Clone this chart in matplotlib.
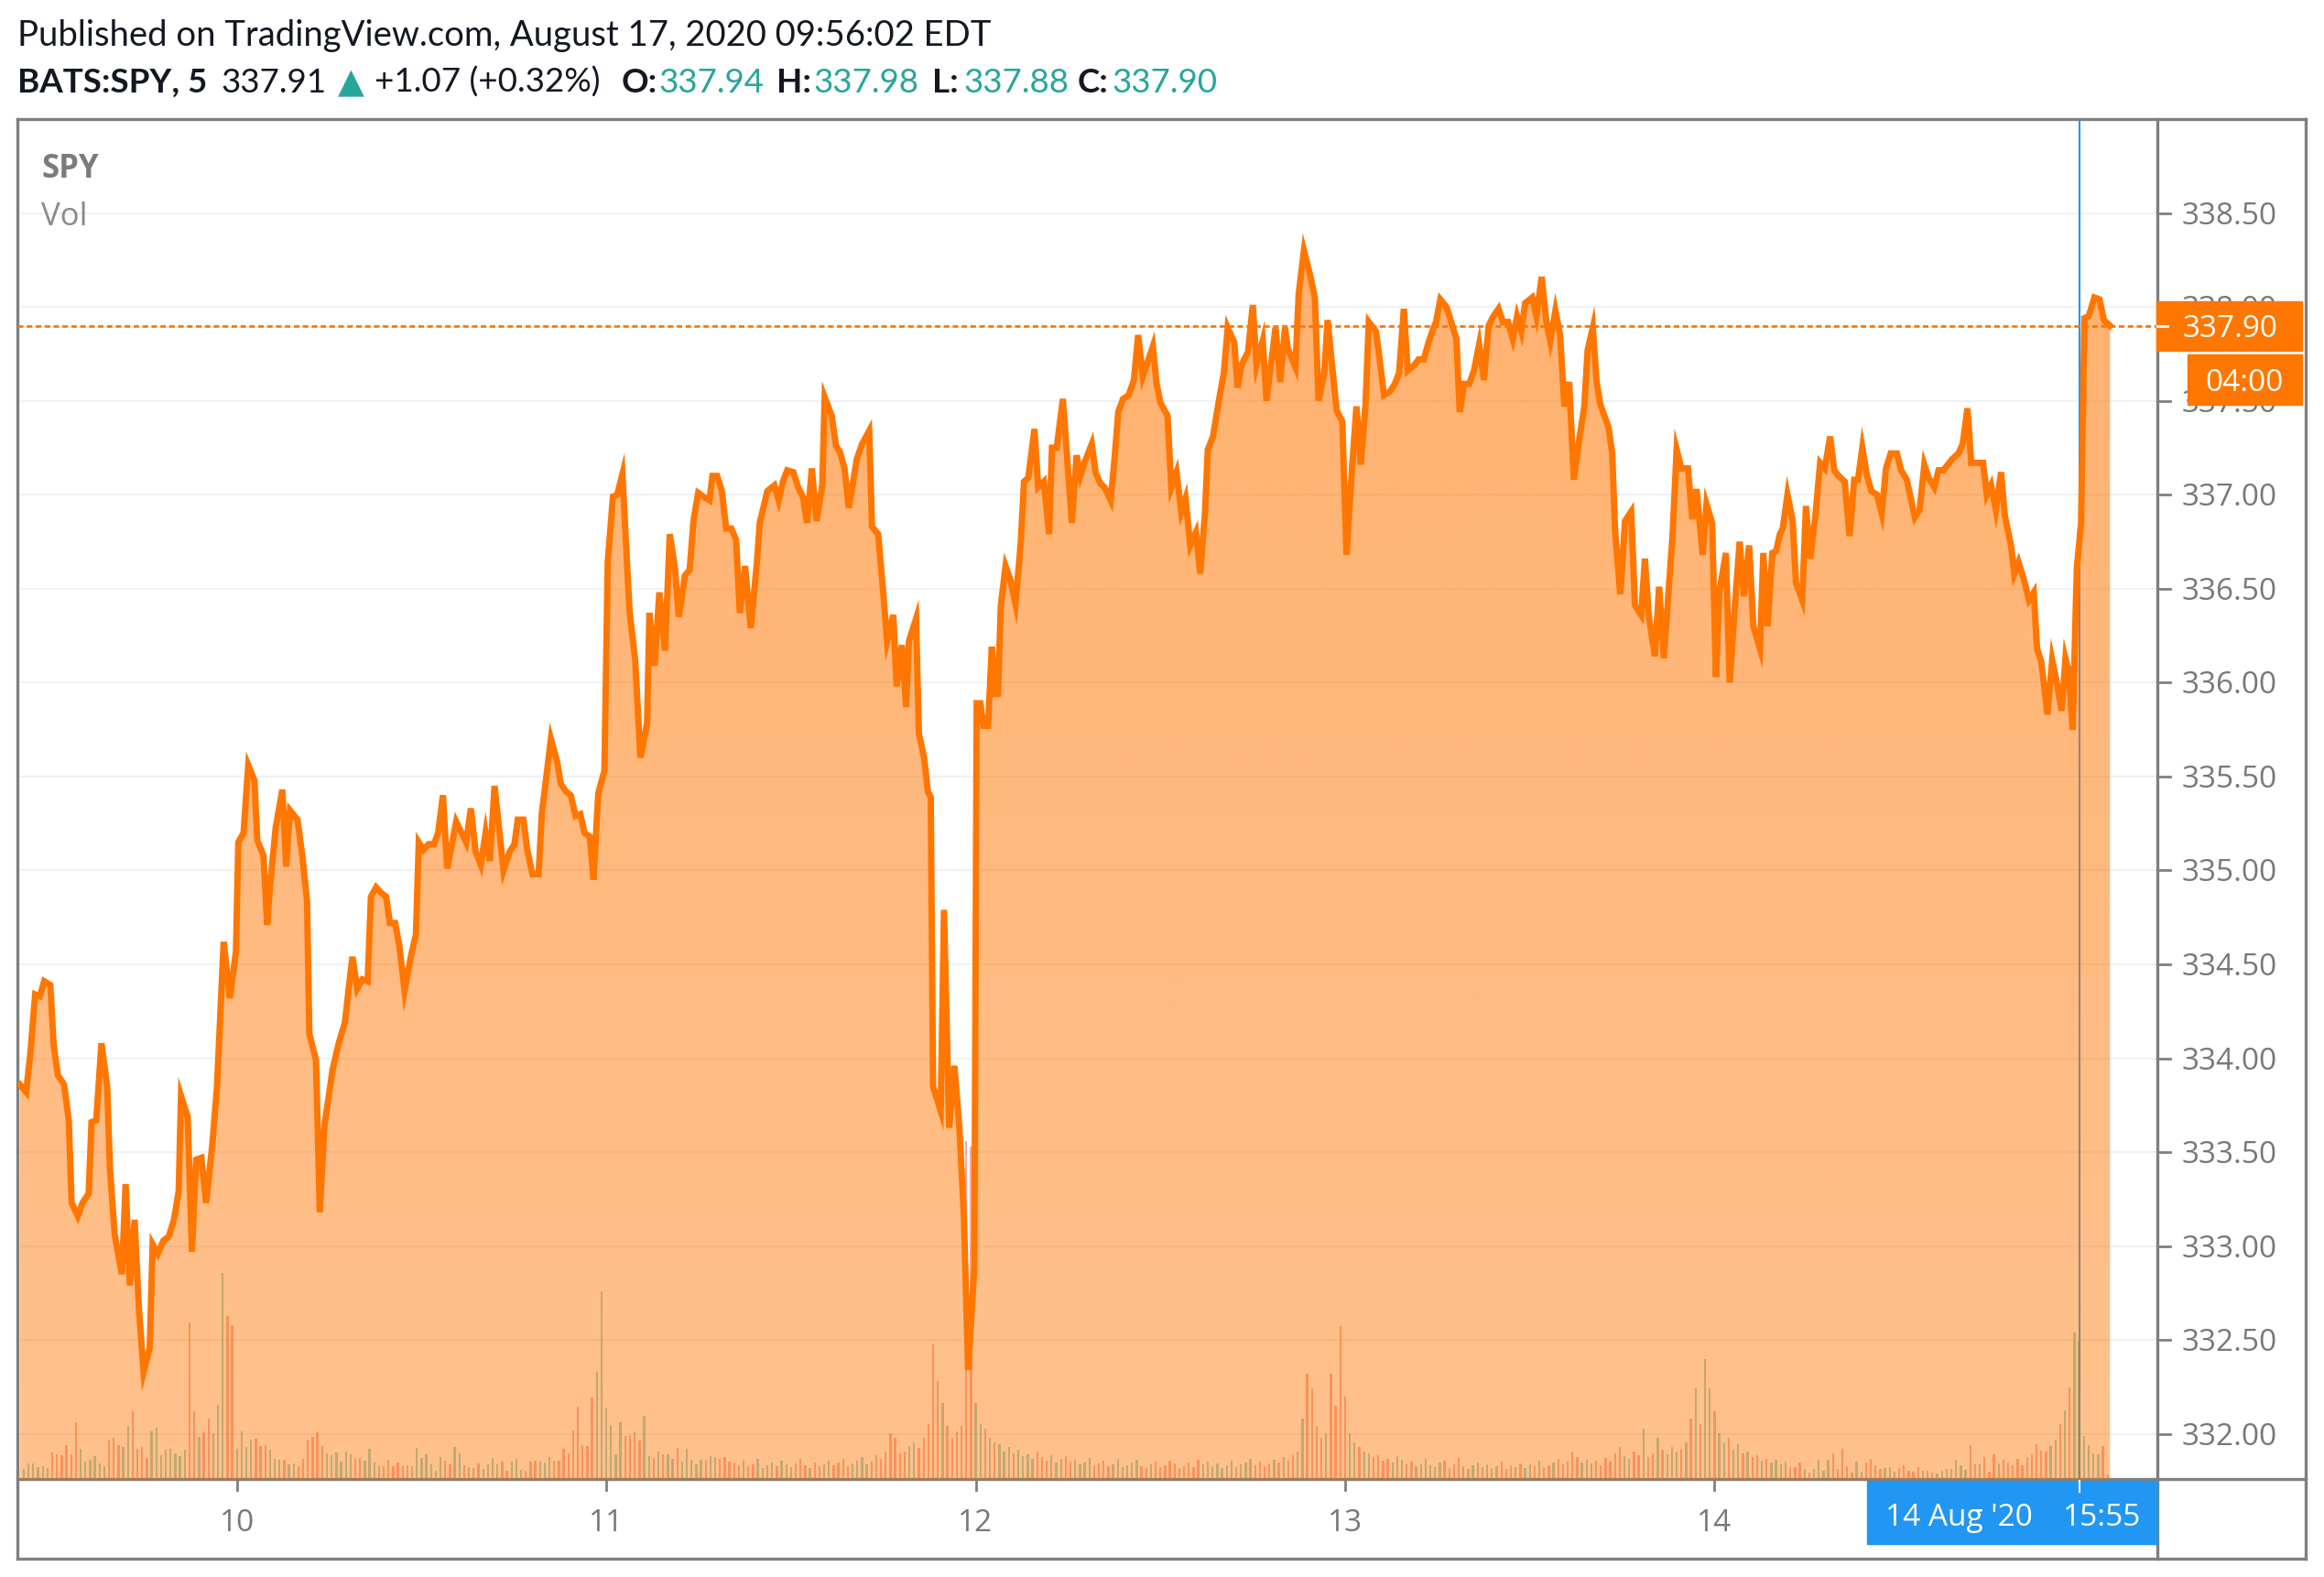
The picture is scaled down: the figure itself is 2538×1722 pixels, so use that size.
import numpy as np
import matplotlib.pyplot as plt
from matplotlib.patches import Rectangle
from matplotlib.lines import Line2D

W, H = 2538, 1722

# ---- data (x = 5-min bar index, 0 = Aug 10 09:30) ----
bar_x = [-45.8, -44.5, -43.6, -42.6, -41.6, -40.7, -39.4, -38.7, -37.8, -36.5,
         -35.5, -34.9, -33.6, -32.6, -31.3, -30.7, -29.7, -28.6, -27.4, -26.8,
         -25.8, -24.3, -23.5, -22.6, -21.6, -20.7, -19.7, -18.4, -17.8, -16.7,
         -15.5, -14.4, -13.3, -12.3, -11.8, -10.4, -9.5, -8.6, -7.5, -6.5,
         -5.2, -4.2, -2.8, -1.5, -0.2, 0.3, 1.4, 2.4, 3.7, 4.3,
         5.6, 6.4, 7.0, 8.2, 9.6, 10.4, 11.2, 12.8, 13.8, 14.8,
         15.3, 16.7, 17.5, 18.5, 19.3, 20.2, 21.5, 22.8, 23.6, 24.4,
         25.4, 26.5, 27.6, 28.3, 29.4, 30.5, 31.5, 32.3, 33.4, 34.3,
         35.4, 36.8, 37.8, 38.4, 39.4, 40.5, 41.6, 42.5, 43.5, 44.4,
         46.3, 48.4, 49.4, 50.4, 51.5, 52.5, 53.4, 54.4, 56.3, 57.6,
         58.6, 59.3, 60.5, 61.3, 62.4, 63.7, 64.4, 65.3, 66.3, 67.6,
         68.4, 69.5, 70.5, 71.5, 72.5, 73.4, 74.5, 75.3, 76.3, 77.6,
         78.3, 79.4, 80.3, 81.4, 82.9, 84.1, 85.2, 86.6, 87.1, 88.2,
         89.2, 90.4, 91.4, 92.5, 93.3, 94.6, 95.6, 96.4, 97.4, 98.5,
         99.8, 100.4, 101.4, 102.4, 103.3, 104.4, 105.4, 106.2, 107.3, 108.5,
         109.8, 110.4, 112.0, 113.5, 114.4, 115.3, 116.2, 117.5, 118.5, 119.5,
         120.4, 121.4, 122.4, 123.6, 124.1, 125.6, 126.5, 127.3, 128.3, 129.2,
         130.9, 132.0, 133.5, 134.1, 135.4, 136.3, 137.3, 138.6, 139.3, 140.4,
         141.3, 141.9, 143.4, 144.0, 145.1, 145.9, 146.5, 147.0, 148.6, 149.3,
         150.4, 151.5, 152.6, 153.5, 154.4, 155.7, 156.2, 157.0, 157.6, 158.6,
         159.4, 160.1, 160.7, 161.3, 162.3, 163.3, 164.4, 165.5, 166.2, 167.1,
         168.4, 169.2, 170.4, 171.5, 172.1, 173.1, 174.4, 176.3, 177.3, 178.1,
         179.1, 180.5, 181.3, 182.3, 183.2, 184.5, 185.2, 186.1, 187.1, 188.3,
         189.4, 190.3, 191.3, 193.4, 194.2, 195.0, 196.5, 197.3, 198.4, 199.4,
         200.3, 201.3, 202.5, 203.4, 204.4, 205.0, 206.1, 207.4, 208.4, 209.2,
         210.6, 211.3, 212.1, 213.5, 214.5, 215.3, 216.6, 217.4, 219.3, 220.3,
         221.3, 221.9, 223.5, 224.2, 225.3, 226.6, 227.6, 228.4, 229.6, 230.3,
         231.3, 232.2, 233.4, 234.3, 235.5, 236.4, 237.3, 238.3, 239.0, 240.5,
         241.2, 242.2, 243.5, 244.5, 245.4, 246.4, 247.2, 248.6, 249.5, 250.6,
         251.6, 252.7, 253.2, 254.1, 255.4, 256.4, 257.5, 258.2, 259.1, 260.2,
         261.2, 262.3, 263.3, 264.3, 265.3, 266.4, 267.3, 268.4, 269.4, 270.3,
         271.2, 272.0, 273.5, 274.4, 275.5, 276.5, 277.3, 278.4, 279.4, 280.3,
         281.3, 282.3, 283.4, 284.5, 285.2, 286.3, 287.1, 287.9, 289.6, 290.4,
         291.0, 292.1, 293.1, 294.4, 295.2, 296.5, 297.3, 298.1, 299.4, 300.3,
         301.3, 303.1, 304.0, 305.0, 306.4, 307.3, 308.2, 309.5, 310.3, 311.5,
         312.3, 313.0, 314.4, 315.2, 316.3, 317.3, 318.2, 319.3, 320.2, 321.6,
         322.3, 323.2, 324.2, 325.0, 325.8, 326.4, 327.4, 328.5, 329.2, 330.5,
         331.3, 332.2, 333.3, 334.3, 335.3, 336.4, 337.3, 338.2, 339.5, 340.5,
         341.5, 342.3, 343.2, 344.2, 345.1, 346.3, 347.3, 348.2, 349.2, 350.5,
         351.4, 352.6, 354.3, 355.3, 356.3, 357.2, 358.4, 359.3, 360.3, 362.2,
         363.5, 364.4, 365.4, 366.2, 367.5, 368.7, 369.5, 370.4, 371.4, 372.5,
         373.3, 374.6, 375.3, 376.2, 377.3, 378.4, 379.4, 380.1, 381.0, 382.3,
         383.3, 384.2, 385.3, 386.1, 386.8, 387.6, 388.5, 389.4, 390.1, 391.0,
         392.2, 393.3, 394.2, 395.5]
price = [333.86, 333.82, 334.03, 334.34, 334.33, 334.41, 334.39, 334.07, 333.91, 333.86,
         333.67, 333.23, 333.16, 333.23, 333.28, 333.66, 333.67, 334.08, 333.85, 333.41,
         333.06, 332.85, 333.33, 332.79, 333.14, 332.67, 332.33, 332.46, 333.01, 332.96,
         333.03, 333.05, 333.14, 333.29, 333.80, 333.69, 332.97, 333.46, 333.47, 333.23,
         333.54, 333.85, 334.62, 334.32, 334.57, 335.15, 335.20, 335.56, 335.48, 335.16,
         335.08, 334.71, 334.92, 335.23, 335.43, 335.02, 335.32, 335.27, 335.08, 334.84,
         334.13, 333.99, 333.18, 333.65, 333.78, 333.94, 334.08, 334.19, 334.37, 334.54,
         334.37, 334.42, 334.41, 334.86, 334.91, 334.88, 334.86, 334.72, 334.72, 334.60,
         334.36, 334.55, 334.66, 335.15, 335.11, 335.14, 335.14, 335.20, 335.40, 335.01,
         335.26, 335.15, 335.33, 335.10, 335.03, 335.20, 335.05, 335.45, 335.00, 335.10,
         335.14, 335.27, 335.27, 335.11, 334.98, 334.98, 335.31, 335.49, 335.70, 335.58,
         335.46, 335.42, 335.40, 335.29, 335.30, 335.20, 335.18, 334.95, 335.41, 335.53,
         336.64, 336.99, 337.00, 337.11, 336.38, 336.12, 335.60, 335.78, 336.37, 336.09,
         336.48, 336.17, 336.79, 336.61, 336.35, 336.57, 336.60, 336.86, 337.01, 336.99,
         336.97, 337.10, 337.10, 337.02, 336.82, 336.82, 336.76, 336.37, 336.62, 336.29,
         336.64, 336.85, 337.02, 337.05, 336.97, 337.07, 337.13, 337.12, 337.04, 336.99,
         336.85, 337.14, 336.86, 337.05, 337.52, 337.42, 337.26, 337.23, 337.14, 336.93,
         337.19, 337.27, 337.34, 336.83, 336.79, 336.53, 336.22, 336.36, 335.98, 336.20,
         335.87, 336.22, 336.34, 335.73, 335.60, 335.42, 335.39, 333.85, 333.72, 334.79,
         333.63, 333.96, 333.61, 333.16, 332.34, 332.88, 335.89, 335.89, 335.77, 335.77,
         336.19, 335.94, 335.94, 336.41, 336.62, 336.55, 336.42, 336.74, 337.07, 337.09,
         337.35, 337.04, 337.07, 336.79, 337.25, 337.25, 337.51, 336.85, 337.21, 337.10,
         337.18, 337.27, 337.12, 337.06, 337.04, 336.97, 337.16, 337.44, 337.51, 337.53,
         337.61, 337.85, 337.63, 337.79, 337.59, 337.49, 337.42, 337.04, 337.12, 336.91,
         336.98, 336.73, 336.80, 336.58, 336.90, 337.24, 337.31, 337.51, 337.65, 337.89,
         337.81, 337.57, 337.69, 337.76, 338.01, 337.69, 337.82, 337.50, 337.89, 337.60,
         337.89, 337.78, 337.68, 338.07, 338.30, 338.17, 338.05, 337.50, 337.65, 337.93,
         337.68, 337.45, 337.39, 336.68, 337.16, 337.47, 337.16, 337.48, 337.92, 337.87,
         337.74, 337.53, 337.55, 337.59, 337.65, 337.99, 337.66, 337.69, 337.72, 337.72,
         337.81, 337.89, 337.92, 338.04, 338.00, 337.92, 337.83, 337.44, 337.59, 337.59,
         337.66, 337.80, 337.61, 337.90, 337.95, 337.99, 337.92, 337.92, 337.83, 337.95,
         337.87, 338.02, 338.05, 337.95, 338.16, 337.92, 337.82, 337.98, 337.85, 337.47,
         337.60, 337.08, 337.29, 337.47, 337.77, 337.89, 337.60, 337.48, 337.36, 337.22,
         336.81, 336.47, 336.86, 336.91, 336.41, 336.36, 336.66, 336.36, 336.14, 336.51,
         336.13, 336.77, 337.24, 337.14, 337.14, 336.87, 337.03, 336.68, 336.95, 336.85,
         336.03, 336.48, 336.69, 336.00, 336.41, 336.75, 336.46, 336.73, 336.30, 336.18,
         336.69, 336.30, 336.69, 336.70, 336.79, 336.82, 337.00, 336.86, 336.53, 336.44,
         336.94, 336.66, 336.89, 337.17, 337.14, 337.31, 337.13, 337.10, 337.07, 336.78,
         337.08, 337.08, 337.25, 337.10, 337.02, 337.00, 336.90, 337.14, 337.22, 337.22,
         337.13, 337.08, 336.88, 336.92, 337.16, 337.09, 337.04, 337.13, 337.13, 337.19,
         337.22, 337.27, 337.46, 337.17, 337.17, 337.17, 337.00, 337.05, 336.92, 337.12,
         336.89, 336.73, 336.58, 336.64, 336.55, 336.44, 336.48, 336.18, 336.11, 335.83,
         336.12, 336.01, 335.85, 336.13, 336.06, 335.75, 336.61, 336.85, 337.94, 337.95,
         338.05, 338.04, 337.93, 337.90]

# volume per bar, starting at bar -45 (thousand shares, rough reading)
vol = [11, 17, 17, 13, 14, 12, 29, 27, 26, 37, 27, 62, 33, 19, 21, 25, 17, 14, 43, 45,
       37, 35, 58, 74, 33, 35, 23, 52, 56, 26, 32, 33, 28, 25, 32, 171, 74, 46, 51, 66,
       50, 81, 225, 178, 168, 33, 52, 35, 43, 44, 36, 37, 32, 22, 21, 21, 16, 17, 14, 22,
       43, 46, 51, 36, 28, 26, 29, 19, 30, 27, 22, 23, 20, 33, 18, 14, 14, 21, 14, 18,
       14, 15, 14, 34, 23, 27, 16, 9, 24, 20, 16, 35, 28, 15, 13, 12, 17, 11, 16, 23,
       16, 19, 9, 19, 22, 10, 9, 19, 20, 19, 18, 24, 20, 20, 33, 28, 53, 79, 37, 36,
       89, 117, 205, 78, 59, 27, 62, 47, 48, 52, 42, 69, 25, 23, 30, 27, 27, 22, 34, 19,
       33, 21, 16, 21, 21, 25, 24, 22, 24, 19,
       # Aug 11, bar 105 on
       18, 15, 20, 14, 16, 22, 12, 15, 18, 14, 20, 16, 13, 17, 22, 15, 12, 18, 14, 16, 20,
       15, 18, 22, 14, 17, 20, 24, 16, 19, 26, 22, 30, 50, 45, 28,
       30, 36, 40, 34, 45, 60, 147, 107, 83, 58, 45, 52, 58, 369, 363,
       # Aug 12
       83, 60, 55, 45, 40, 38, 30, 35, 28, 32, 25, 27, 22, 30, 24, 20, 26, 18, 22, 25,
       19, 21, 16, 18, 23, 15, 17, 20, 14, 16, 22, 13, 15, 18, 21, 14, 12, 16, 19, 13,
       15, 20, 17, 12, 14, 18, 13, 21, 16, 19, 14, 17, 12, 15, 20, 13, 16, 18, 22, 15,
       19, 14, 17, 21, 18, 24, 20, 26, 30, 66, 115, 99, 58, 45, 50, 115, 80, 167,
       # Aug 13
       90, 50, 40, 35, 30, 28, 24, 26, 20, 22, 18, 25, 21, 16, 19, 14, 17, 22, 15, 13,
       18, 20, 12, 16, 23, 14, 11, 15, 18, 13, 16, 12, 14, 19, 11, 15, 13, 17, 12, 16,
       14, 20, 13, 15, 18, 22, 16, 19, 30, 24, 18, 21, 17, 20, 15, 23, 19, 28, 35, 25,
       22, 30, 26, 55, 24, 28, 45, 32, 27, 35, 30, 33, 40, 66, 99, 60, 131, 99,
       # Aug 14
       74, 50, 40, 45, 32, 38, 28, 30, 24, 26, 20, 22, 18, 21, 16, 19,
       13, 13, 18, 11, 7, 11, 21, 9, 21, 28, 11, 33, 14, 7, 19, 8, 18, 22, 15, 11,
       12, 13, 8, 12, 15, 9, 8, 13, 9, 9, 7, 6, 9, 11, 11, 21, 15, 10, 37, 16,
       16, 24, 8, 27, 17, 21, 18, 15, 22, 15, 24, 27, 38, 31, 30, 36, 43, 60, 75, 100,
       160, 150,
       # Aug 17
       47, 37, 28, 27, 36, 5]
vol_first_bar = -45

day_labels = ['10', '11', '12', '13', '14']
day_bars = [0, 78, 156, 234, 312]
price_ticks = np.arange(332.0, 338.51, 0.5)
last_price = 337.90
last_bar_time = '04:00'
cursor_bar = 389.1
cursor_date, cursor_time = "14 Aug '20", '15:55'

ORANGE = '#FF7600'
GRAY = '#7f7f7f'
TEXT_GRAY = '#787878'
TEAL = '#26a69a'
BLUE = '#2196F3'

fig = plt.figure(figsize=(W / 100, H / 100), dpi=100)
fig.patch.set_facecolor('white')


def fx(x):
    return x / W


def fy(y):
    return 1 - y / H


L, R, T, B = 19, 2356, 130, 1615
rect = [fx(L), fy(B), fx(R) - fx(L), fy(T) - fy(B)]
xlim = (-46.35, 405.5)
ylim = (331.76, 339.0)

# volume + grid underneath
ax_v = fig.add_axes(rect, zorder=1)
ax_v.set_xlim(*xlim)
ax_v.set_ylim(0, 1485)
ax_v.axis('off')

ax = fig.add_axes(rect, zorder=2)
ax.patch.set_alpha(0)
ax.set_xlim(*xlim)
ax.set_ylim(*ylim)
ax.axis('off')

for p in price_ticks:
    ax_v.axhline((p - ylim[0]) / (ylim[1] - ylim[0]) * 1485, color='#eef1f8', lw=1.6, zorder=0)

ax_v.axvline(cursor_bar, color=BLUE, lw=1.5, zorder=1)

vx = np.arange(len(vol)) + vol_first_bar
pclose = np.interp(vx, bar_x, price)
up = np.r_[True, np.diff(pclose) >= 0]
vcol = [TEAL if u else '#ef5350' for u in up]
ax_v.bar(vx, vol, width=0.45, color=vcol, alpha=0.5, zorder=2)

# gradient area fill
poly = ax.fill_between(bar_x, price, ylim[0], facecolor='none', edgecolor='none')
grad = np.zeros((256, 1, 4))
grad[..., 0] = 1.0
grad[..., 1] = 118 / 255
grad[..., 2] = 0.0
grad[..., 3] = np.linspace(0.58, 0.45, 256)[:, None]
im = ax.imshow(grad, extent=[xlim[0], xlim[1], ylim[0], ylim[1]], aspect='auto',
               origin='upper', zorder=2, interpolation='bilinear')
im.set_clip_path(poly.get_paths()[0], transform=ax.transData)
ax.set_xlim(*xlim)
ax.set_ylim(*ylim)

ax.plot(bar_x, price, color=ORANGE, lw=5.0, solid_joinstyle='miter', zorder=3)
ax.axhline(last_price, color=ORANGE, lw=2.0, dashes=(2.2, 1.3), zorder=4)

fig.canvas.draw()


def ypix(p):
    return H - ax.transData.transform((0, p))[1]


def xpix(b):
    return ax.transData.transform((b, 0))[0]


# frame
for (x0, y0, x1, y1) in [(L, T, 2518, T), (L, 1702, 2518, 1702), (L, T, L, 1702),
                         (2518, T, 2518, 1702), (R, T, R, 1702), (L, B, 2518, B)]:
    fig.add_artist(Line2D([fx(x0), fx(x1)], [fy(y0), fy(y1)], color=GRAY, lw=2.4,
                          solid_capstyle='projecting'))

# price scale
for p in price_ticks:
    yp = ypix(p)
    fig.add_artist(Line2D([fx(R), fx(2370)], [fy(yp), fy(yp)], color=GRAY, lw=2.0))
    fig.text(fx(2383), fy(yp + 12), f'{p:.2f}', fontsize=24, family='Open Sans',
             color=TEXT_GRAY, va='baseline', ha='left')

yl = ypix(last_price)
fig.add_artist(Rectangle((fx(2355), fy(yl + 27)), fx(2514) - fx(2355), 54 / H,
                         color=ORANGE, zorder=5))
fig.add_artist(Line2D([fx(R), fx(2367)], [fy(yl), fy(yl)], color='white', lw=2.0, zorder=6))
fig.text(fx(2436), fy(yl + 12), f'{last_price:.2f}', fontsize=24, family='Open Sans',
         color='white', va='baseline', ha='center', zorder=7)
fig.add_artist(Rectangle((fx(2389), fy(yl + 86)), fx(2514) - fx(2389), 55 / H,
                         color=ORANGE, zorder=5))
fig.text(fx(2451), fy(yl + 71), last_bar_time, fontsize=24, family='Open Sans',
         color='white', va='baseline', ha='center', zorder=7)

# time scale
for lab, b in zip(day_labels, day_bars):
    xp = xpix(b)
    fig.add_artist(Line2D([fx(xp), fx(xp)], [fy(B), fy(B + 12)], color=GRAY, lw=2.0))
    fig.text(fx(xp), fy(1672), lab, fontsize=24, family='Open Sans', color=TEXT_GRAY,
             va='baseline', ha='center')

xc = xpix(cursor_bar)
fig.add_artist(Rectangle((fx(2039), fy(1686)), fx(R) - fx(2039), 69 / H, color=BLUE, zorder=5))
fig.add_artist(Line2D([fx(xc), fx(xc)], [fy(B + 2), fy(B + 14)], color='white', lw=1.5, zorder=6))
fig.text(fx(2059), fy(1666), cursor_date, fontsize=24, family='Open Sans', color='white',
         va='baseline', ha='left', zorder=7)
fig.text(fx(2338), fy(1666), cursor_time, fontsize=24, family='Open Sans', color='white',
         va='baseline', ha='right', zorder=7)

# legend in pane
fig.text(fx(45), fy(194), 'SPY', fontsize=25, family='Open Sans', weight='bold',
         color='#7b7b7b', va='baseline')
fig.text(fx(45), fy(246), 'Vol', fontsize=25, family='Open Sans', color='#8a8a8a',
         va='baseline')

# header
HF = 'Lato'
fig.text(fx(19), fy(50), 'Published on TradingView.com, August 17, 2020 09:56:02 EDT',
         fontsize=27.5, family=HF, color='#131722', va='baseline')
pieces = [(19, 'BATS:SPY, 5', 'bold', '#131722'),
          (241, '337.91', 'normal', '#131722'),
          (409, '+1.07 (+0.32%)', 'normal', '#131722'),
          (679, 'O:', 'bold', '#131722'), (719, '337.94', 'normal', TEAL),
          (848, 'H:', 'bold', '#131722'), (888, '337.98', 'normal', TEAL),
          (1018, 'L:', 'bold', '#131722'), (1052, '337.88', 'normal', TEAL),
          (1177, 'C:', 'bold', '#131722'), (1214, '337.90', 'normal', TEAL)]
for x0, s, w, c in pieces:
    fig.text(fx(x0), fy(101), s, fontsize=26.5, family=HF, weight=w, color=c, va='baseline')
fig.text(fx(369), fy(101), '\u25b2', fontsize=27, family='DejaVu Sans', color=TEAL,
         va='baseline')

fig.savefig('out.png', dpi=100, facecolor='white')
